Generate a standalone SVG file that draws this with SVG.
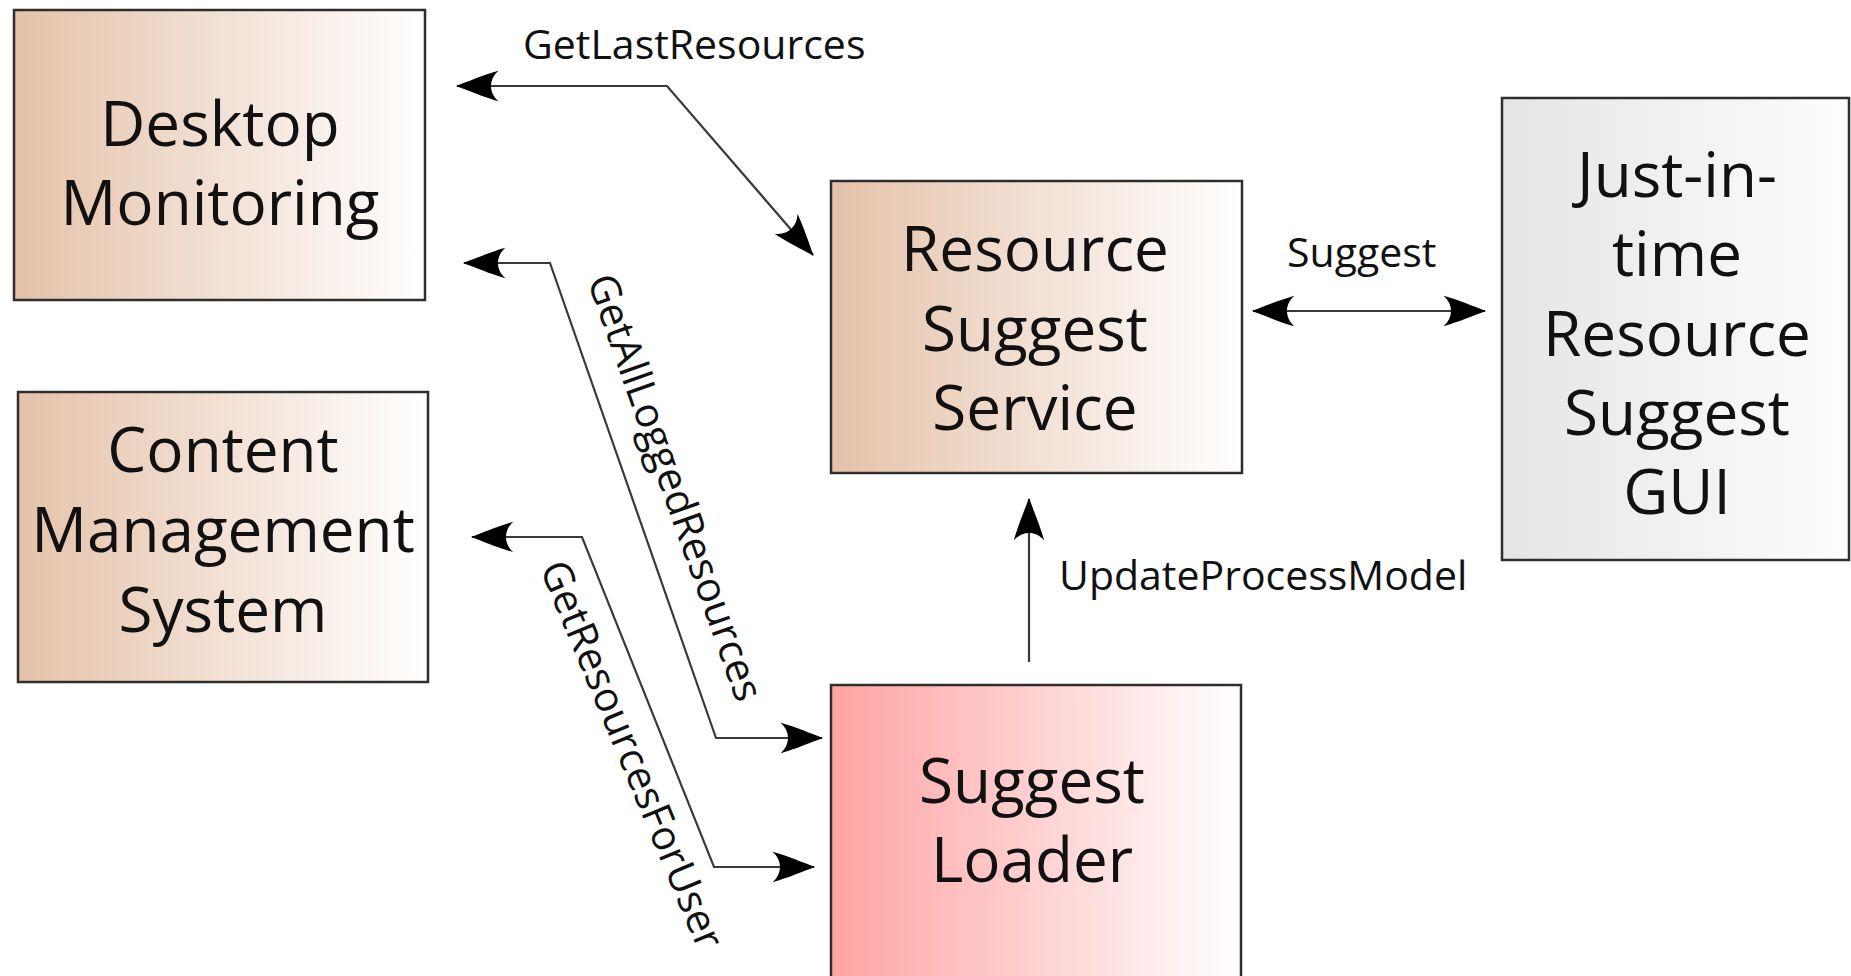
<svg xmlns="http://www.w3.org/2000/svg" width="1851" height="976" viewBox="0 0 1851 976">
<style>
.box{stroke:#2e2e2e;stroke-width:2.5}
.big{font-family:"Open Sans","Liberation Sans",sans-serif;font-size:62px;fill:#111;text-anchor:middle}
.lbl{font-family:"Open Sans","Liberation Sans",sans-serif;font-size:41px;fill:#111}
.conn{fill:none;stroke:#3a3a3a;stroke-width:2.2}
</style>
<defs>
<linearGradient id="tan" x1="0" y1="0" x2="1" y2="0">
<stop offset="0" stop-color="#e5c2a9"/><stop offset="1" stop-color="#ffffff"/>
</linearGradient>
<linearGradient id="pink" x1="0" y1="0" x2="1" y2="0">
<stop offset="0" stop-color="#ffa3a3"/><stop offset="1" stop-color="#ffffff"/>
</linearGradient>
<linearGradient id="gray" x1="0" y1="0" x2="1" y2="0">
<stop offset="0" stop-color="#e5e5e5"/><stop offset="1" stop-color="#fdfdfd"/>
</linearGradient>
<marker id="arr" markerUnits="userSpaceOnUse" markerWidth="50" markerHeight="40" viewBox="-42 -18 46 36" refX="0" refY="0" orient="auto-start-reverse">
<path d="M 1,0 C -10,-4 -24,-10 -38,-14 C -29,-6 -29,6 -38,14 C -24,10 -10,4 1,0 Z" fill="#000"/>
</marker>
</defs>
<g id="desktop-monitoring">
<rect class="box" x="14" y="10" width="411" height="290" fill="url(#tan)"/>
<text class="big" x="220" y="146">Desktop</text>
<text class="big" x="220" y="225">Monitoring</text>
</g>
<g id="content-management-system">
<rect class="box" x="18" y="392" width="410" height="290" fill="url(#tan)"/>
<text class="big" x="223" y="472">Content</text>
<text class="big" x="223" y="552">Management</text>
<text class="big" x="223" y="632">System</text>
</g>
<g id="resource-suggest-service">
<rect class="box" x="831" y="181" width="411" height="292" fill="url(#tan)"/>
<text class="big" x="1035" y="271">Resource</text>
<text class="big" x="1035" y="351">Suggest</text>
<text class="big" x="1035" y="430">Service</text>
</g>
<g id="jit-resource-suggest-gui">
<rect class="box" x="1502" y="98" width="347" height="462" fill="url(#gray)"/>
<text class="big" x="1677" y="197">Just-in-</text>
<text class="big" x="1677" y="276">time</text>
<text class="big" x="1677" y="356">Resource</text>
<text class="big" x="1677" y="435">Suggest</text>
<text class="big" x="1677" y="514">GUI</text>
</g>
<g id="suggest-loader">
<rect class="box" x="831" y="685" width="410" height="300" fill="url(#pink)"/>
<text class="big" x="1032" y="803">Suggest</text>
<text class="big" x="1032" y="882">Loader</text>
</g>
<g id="connectors">
<path class="conn" d="M 457,86 L 667,86 L 813,255" marker-start="url(#arr)" marker-end="url(#arr)"/>
<path class="conn" d="M 464,263 L 550,263 L 716,738 L 822,738" marker-start="url(#arr)" marker-end="url(#arr)"/>
<path class="conn" d="M 472,537 L 582,537 L 714,867 L 814,867" marker-start="url(#arr)" marker-end="url(#arr)"/>
<path class="conn" d="M 1029,662 L 1029,499" marker-end="url(#arr)"/>
<path class="conn" d="M 1253,311 L 1485,311" marker-start="url(#arr)" marker-end="url(#arr)"/>
<text class="lbl" x="523" y="59">GetLastResources</text>
<text class="lbl" x="1287" y="267">Suggest</text>
<text class="lbl" x="1059" y="590">UpdateProcessModel</text>
<text class="lbl" text-anchor="middle" transform="translate(662,492) rotate(70.5)">GetAllLoggedResources</text>
<text class="lbl" text-anchor="middle" transform="translate(619,760) rotate(67.5)">GetResourcesForUser</text>
</g>
</svg>
